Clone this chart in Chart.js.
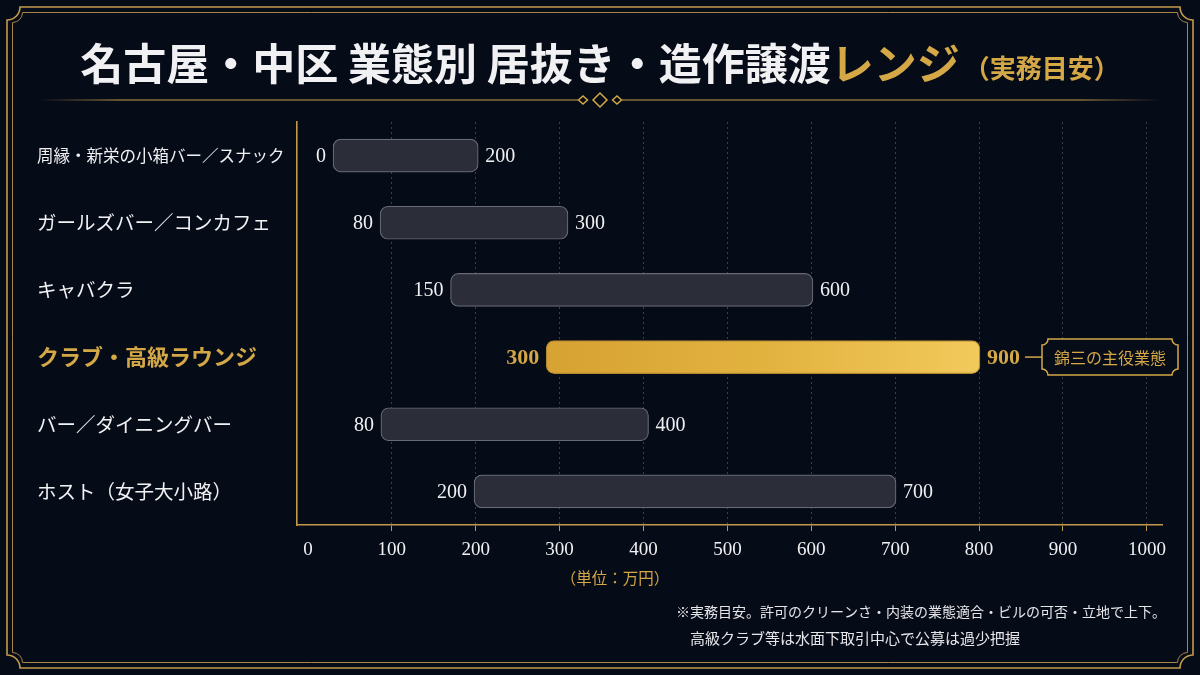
<!DOCTYPE html>
<html>
<head>
<meta charset="utf-8">
<script src="https://cdn.jsdelivr.net/npm/chart.js@4.4.1/dist/chart.umd.min.js"></script>
<style>
  html, body { margin: 0; padding: 0; background: #060b18; }
  #c { display: block; }
</style>
</head>
<body>
<canvas id="c" width="1200" height="675"></canvas>
<script>
// categories (top to bottom)
const categories = [
  '周縁・新栄の小箱バー／スナック',
  'ガールズバー／コンカフェ',
  'キャバクラ',
  'クラブ・高級ラウンジ',
  'バー／ダイニングバー',
  'ホスト（女子大小路）'
];
// bar extents as drawn (万円)
const rangeLow  = [30, 86, 170, 284, 87, 198];
const rangeHigh = [203, 310, 602, 801, 406, 701];
// end labels printed next to each bar
const lowLabels  = ['0', '80', '150', '300', '80', '200'];
const highLabels = ['200', '300', '600', '900', '400', '700'];
const xTicks = [0, 100, 200, 300, 400, 500, 600, 700, 800, 900, 1000];
const highlightIndex = 3;

const titleMain = '名古屋・中区 業態別 居抜き・造作譲渡';
const titleAccent = 'レンジ';
const titleNote = '（実務目安）';
const unitLabel = '（単位：万円）';
const calloutText = '錦三の主役業態';
const notes = [
  '※実務目安。許可のクリーンさ・内装の業態適合・ビルの可否・立地で上下。',
  '高級クラブ等は水面下取引中心で公募は過少把握'
];

const GOLD = '#d4a846';
const GOLD_LINE = '#c39a4c';
const WHITE = '#f1f1f3';
const SERIF = '"Liberation Serif", "Noto Sans CJK JP", serif';
const JP = '"Noto Sans CJK JP", sans-serif';

function concaveRect(ctx, x1, y1, x2, y2, r) {
  ctx.beginPath();
  ctx.moveTo(x1 + r, y1);
  ctx.lineTo(x2 - r, y1);
  ctx.arc(x2, y1, r, Math.PI, Math.PI / 2, true);
  ctx.lineTo(x2, y2 - r);
  ctx.arc(x2, y2, r, Math.PI * 1.5, Math.PI, true);
  ctx.lineTo(x1 + r, y2);
  ctx.arc(x1, y2, r, 0, Math.PI * 1.5, true);
  ctx.lineTo(x1, y1 + r);
  ctx.arc(x1, y1, r, Math.PI / 2, 0, true);
  ctx.closePath();
}

function diamond(ctx, cx, cy, w, h) {
  ctx.beginPath();
  ctx.moveTo(cx - w, cy);
  ctx.lineTo(cx, cy - h);
  ctx.lineTo(cx + w, cy);
  ctx.lineTo(cx, cy + h);
  ctx.closePath();
  ctx.fillStyle = '#060b18';
  ctx.fill();
  ctx.stroke();
}

const decor = {
  id: 'decor',
  beforeDraw(chart) {
    const ctx = chart.ctx;
    ctx.save();
    ctx.fillStyle = '#060b18';
    ctx.fillRect(0, 0, chart.width, chart.height);
    ctx.restore();
  },
  afterDraw(chart) {
    const ctx = chart.ctx;
    ctx.save();
    // frame
    ctx.strokeStyle = GOLD_LINE;
    ctx.lineWidth = 1.6;
    concaveRect(ctx, 7, 7, 1193, 668, 13);
    ctx.stroke();
    ctx.lineWidth = 1;
    ctx.strokeStyle = '#a88448';
    concaveRect(ctx, 12.5, 12.5, 1187.5, 662.5, 10);
    ctx.stroke();

    // title
    ctx.textBaseline = 'alphabetic';
    ctx.font = 'bold 43px ' + JP;
    const wMain = ctx.measureText(titleMain).width;
    const wAcc = ctx.measureText(titleAccent).width;
    ctx.font = 'bold 26px ' + JP;
    const wNote = ctx.measureText(titleNote).width;
    let x = 600 - (wMain + wAcc + wNote + 4) / 2;
    ctx.textAlign = 'left';
    ctx.font = 'bold 43px ' + JP;
    ctx.fillStyle = WHITE;
    ctx.fillText(titleMain, x, 80);
    x += wMain;
    ctx.fillStyle = GOLD;
    ctx.fillText(titleAccent, x, 80);
    x += wAcc + 4;
    ctx.font = 'bold 26px ' + JP;
    ctx.fillText(titleNote, x, 78);

    // ornament line
    ctx.lineWidth = 1.2;
    let g = ctx.createLinearGradient(38, 0, 578, 0);
    g.addColorStop(0, 'rgba(195,154,76,0)');
    g.addColorStop(0.15, GOLD_LINE);
    g.addColorStop(1, GOLD_LINE);
    ctx.strokeStyle = g;
    ctx.beginPath(); ctx.moveTo(38, 100); ctx.lineTo(578, 100); ctx.stroke();
    g = ctx.createLinearGradient(622, 0, 1162, 0);
    g.addColorStop(0, GOLD_LINE);
    g.addColorStop(0.85, GOLD_LINE);
    g.addColorStop(1, 'rgba(195,154,76,0)');
    ctx.strokeStyle = g;
    ctx.beginPath(); ctx.moveTo(622, 100); ctx.lineTo(1162, 100); ctx.stroke();
    ctx.strokeStyle = GOLD;
    ctx.lineWidth = 1.5;
    diamond(ctx, 600, 100, 7, 7);
    diamond(ctx, 583, 100, 4.5, 4);
    diamond(ctx, 617, 100, 4.5, 4);

    // unit label and notes
    ctx.textBaseline = 'middle';
    ctx.textAlign = 'center';
    ctx.fillStyle = GOLD;
    ctx.font = '15.5px ' + JP;
    ctx.fillText(unitLabel, 615, 578);
    ctx.textAlign = 'left';
    ctx.fillStyle = '#e6e6ea';
    ctx.font = '14px ' + JP;
    ctx.fillText(notes[0], 676, 612);
    ctx.font = '15px ' + JP;
    ctx.fillText(notes[1], 690, 638);
    ctx.restore();
  },
  afterDatasetsDraw(chart) {
    const ctx = chart.ctx;
    const meta = chart.getDatasetMeta(0);
    ctx.save();
    ctx.textBaseline = 'middle';
    meta.data.forEach((el, i) => {
      const hi = i === highlightIndex;
      const left = Math.min(el.x, el.base);
      const right = Math.max(el.x, el.base);
      ctx.font = hi ? 'bold 22px ' + SERIF : '20px ' + SERIF;
      ctx.fillStyle = hi ? GOLD : WHITE;
      ctx.textAlign = 'right';
      ctx.fillText(lowLabels[i], left - 7, el.y + 1);
      ctx.textAlign = 'left';
      ctx.fillText(highLabels[i], right + 7, el.y + 1);
      if (hi) {
        const endX = right + 7 + ctx.measureText(highLabels[i]).width;
        const bx1 = 1042, bx2 = 1178, by1 = el.y - 18, by2 = el.y + 18;
        ctx.strokeStyle = GOLD;
        ctx.lineWidth = 1.5;
        ctx.beginPath();
        ctx.moveTo(endX + 5, el.y);
        ctx.lineTo(bx1, el.y);
        ctx.stroke();
        concaveRect(ctx, bx1, by1, bx2, by2, 6);
        ctx.fillStyle = '#070c19';
        ctx.fill();
        ctx.stroke();
        ctx.fillStyle = GOLD;
        ctx.font = '16px ' + JP;
        ctx.textAlign = 'center';
        ctx.fillText(calloutText, (bx1 + bx2) / 2, el.y + 1);
      }
    });
    ctx.restore();
  }
};

const barData = categories.map((c, i) => [rangeLow[i], rangeHigh[i]]);

new Chart(document.getElementById('c'), {
  type: 'bar',
  data: {
    labels: categories,
    datasets: [{
      data: barData,
      barThickness: 33,
      borderRadius: 8,
      borderSkipped: false,
      borderWidth: 1.2,
      backgroundColor: (ctx) => {
        if (ctx.dataIndex !== highlightIndex) return '#2b2d38';
        const ca = ctx.chart.chartArea;
        if (!ca) return GOLD;
        const g = ctx.chart.ctx.createLinearGradient(540, 0, 985, 0);
        g.addColorStop(0, '#d6a233');
        g.addColorStop(0.5, '#e2b23f');
        g.addColorStop(1, '#f2ca5c');
        return g;
      },
      borderColor: (ctx) => ctx.dataIndex === highlightIndex ? '#b3882e' : '#676976'
    }]
  },
  options: {
    indexAxis: 'y',
    responsive: false,
    animation: false,
    layout: { padding: { top: 122, left: 37, right: 38, bottom: 0 } },
    plugins: {
      legend: { display: false },
      tooltip: { enabled: false },
      title: { display: false }
    },
    scales: {
      x: {
        type: 'linear',
        min: -13,
        max: 1018,
        afterBuildTicks: (scale) => { scale.ticks = xTicks.map(v => ({ value: v })); },
        afterFit: (scale) => { scale.height = 150; },
        grid: {
          color: (ctx) => (ctx.tick && ctx.tick.value === 0) ? 'rgba(0,0,0,0)' : 'rgba(150,140,120,0.4)',
          lineWidth: 1,
          drawTicks: true,
          tickLength: 6,
          tickColor: (ctx) => (ctx.tick && ctx.tick.value === 0) ? 'rgba(0,0,0,0)' : GOLD_LINE,
          tickBorderDash: []
        },
        border: { display: true, color: GOLD_LINE, width: 1.6, dash: [2, 3] },
        ticks: {
          color: WHITE,
          font: { family: SERIF, size: 19 },
          padding: 8,
          autoSkip: false,
          maxRotation: 0,
          callback: (v) => String(v)
        }
      },
      y: {
        type: 'category',
        afterFit: (scale) => { scale.width = 260; },
        grid: { display: false },
        border: { display: true, color: GOLD_LINE, width: 1.6 },
        ticks: {
          crossAlign: 'far',
          color: (ctx) => ctx.index === highlightIndex ? GOLD : WHITE,
          font: (ctx) => {
            if (ctx.index === highlightIndex) return { family: JP, size: 22, weight: 'bold' };
            if (ctx.index === 0) return { family: JP, size: 16.5 };
            return { family: JP, size: 19.5 };
          }
        }
      }
    }
  },
  plugins: [decor]
});
</script>
</body>
</html>
